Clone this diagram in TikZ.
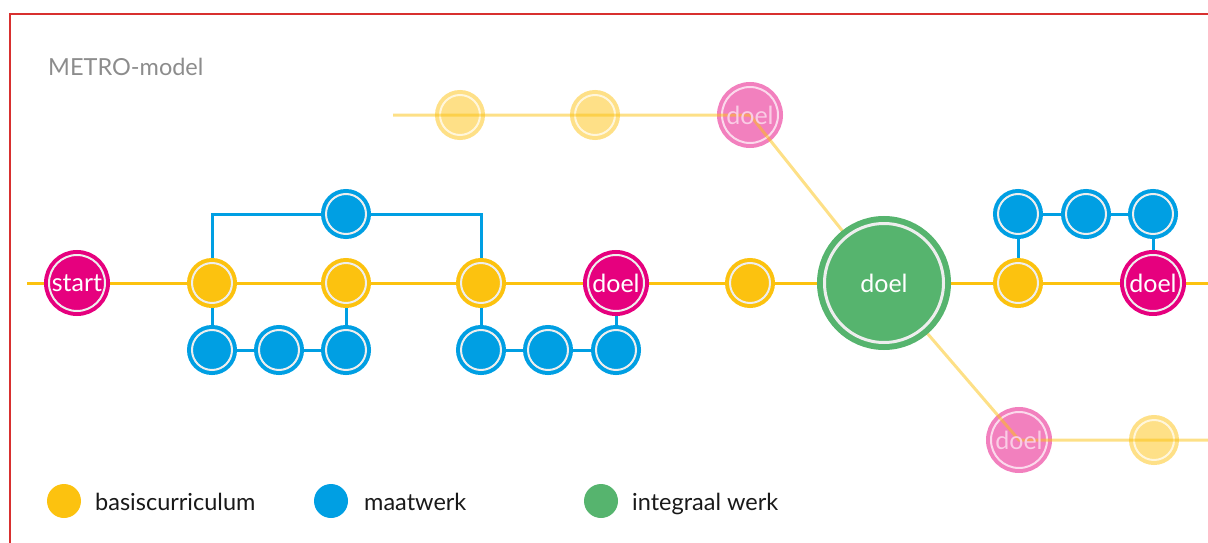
\documentclass[tikz,border=0pt]{standalone}
\usepackage{fontspec}
\setmainfont{Lato}
\usetikzlibrary{backgrounds}

\definecolor{geel}{HTML}{FCC20F}
\definecolor{blauw}{HTML}{009FE3}
\definecolor{roze}{HTML}{E6007E}
\definecolor{groen}{HTML}{56B46E}
\definecolor{ring}{HTML}{EEEEEE}
\definecolor{kaderrood}{HTML}{D8302F}

\tikzset{
  halte/.style={circle, draw=#1, fill=#1, double=ring, line width=4pt, double distance=2pt, inner sep=0pt, minimum size=40pt},
  tekst/.style={text=white, font=\fontsize{25}{25}\selectfont},
  doel/.style={halte=roze, minimum size=56pt, tekst},
  groot/.style={halte=groen, line width=6pt, double distance=3pt, minimum size=119pt, tekst},
  vaag/.style={halte=#1!50!white, double=#1!15!white},
  vaagdoel/.style={doel, fill=roze!50!white, draw=roze!50!white, double=roze!15!white},
  vaagtekst/.style={tekst, text=roze!20!white, inner sep=0pt},
  spoor/.style={draw=#1, line width=3pt},
  vaagspoor/.style={draw=geel, opacity=0.5, line width=3pt},
  stip/.style={circle, fill=#1, inner sep=0pt, minimum size=34pt},
  legenda/.style={text=black!90, font=\fontsize{23.5}{23.5}\selectfont, anchor=base west, inner sep=0pt},
}

\begin{document}
\begin{tikzpicture}[x=1pt, y=-1pt]
\useasboundingbox (0,0) rectangle (1208,543);
\draw[kaderrood, line width=1.5pt] (10,543) -- (10,14) -- (1208,14);
\node[text=black!45, font=\fontsize{23.5}{23.5}\selectfont, anchor=base west, inner sep=0pt] (titel) at (48,75) {METRO-model};

% hoofdlijn
\coordinate (west) at (27,283);
\coordinate (oost) at (1208,283);
\node[doel] (start) at (77,283) {start};
\node[halte=geel] (b1) at (212,283) {};
\node[halte=geel] (b2) at (346,283) {};
\node[halte=geel] (b3) at (481,283) {};
\node[doel] (d1) at (616,283) {doel};
\node[halte=geel] (b4) at (750,283) {};
\node[groot] (g) at (884,283) {doel};
\node[halte=geel] (b5) at (1018,283) {};
\node[doel] (d2) at (1153,283) {doel};

% maatwerk
\node[halte=blauw] (m0) at (346,214) {};
\node[halte=blauw] (m1) at (212,350) {};
\node[halte=blauw] (m2) at (279,350) {};
\node[halte=blauw] (m3) at (346,350) {};
\node[halte=blauw] (m4) at (481,350) {};
\node[halte=blauw] (m5) at (548,350) {};
\node[halte=blauw] (m6) at (616,350) {};
\node[halte=blauw] (m7) at (1018,214) {};
\node[halte=blauw] (m8) at (1086,214) {};
\node[halte=blauw] (m9) at (1153,214) {};

\begin{scope}[on background layer]
\draw[spoor=geel] (west) -- (start.center) -- (b1.center) -- (b2.center) -- (b3.center) -- (d1.center) -- (b4.center) -- (g.center) -- (b5.center) -- (d2.center) -- (oost);
\draw[spoor=blauw] (b1.center) |- (m0.center) -| (b3.center);
\draw[spoor=blauw] (b1.center) -- (m1.center) -- (m2.center) -- (m3.center) -- (b2.center);
\draw[spoor=blauw] (b3.center) -- (m4.center) -- (m5.center) -- (m6.center) -- (d1.center);
\draw[spoor=blauw] (b5.center) -- (m7.center) -- (m8.center) -- (m9.center) -- (d2.center);
% zijlijnen
\node[vaag=geel] (v1) at (460,115) {};
\node[vaag=geel] (v2) at (595,115) {};
\node[vaagdoel] (vd1) at (750,115) {};
\node[vaagdoel] (vd2) at (1019,440) {};
\node[vaag=geel] (v3) at (1154,440) {};
\coordinate (noord) at (393,115);
\coordinate (zuid) at (1208,440);
\draw[vaagspoor] (noord) -- (v1.center) -- (v2.center) -- (vd1.center) -- (g.center);
\draw[vaagspoor] (g.center) -- (vd2.center) -- (v3.center) -- (zuid);
\end{scope}
\node[vaagtekst] (vt1) at (vd1) {doel};
\node[vaagtekst] (vt2) at (vd2) {doel};

% legenda
\node[stip=geel] (lbasis) at (64,501) {};
\node[legenda] (tbasis) at (95,510) {basiscurriculum};
\node[stip=blauw] (lmaat) at (331,501) {};
\node[legenda] (tmaat) at (364,510) {maatwerk};
\node[stip=groen] (linteg) at (601,501) {};
\node[legenda] (tinteg) at (632,510) {integraal werk};
\end{tikzpicture}
\end{document}
